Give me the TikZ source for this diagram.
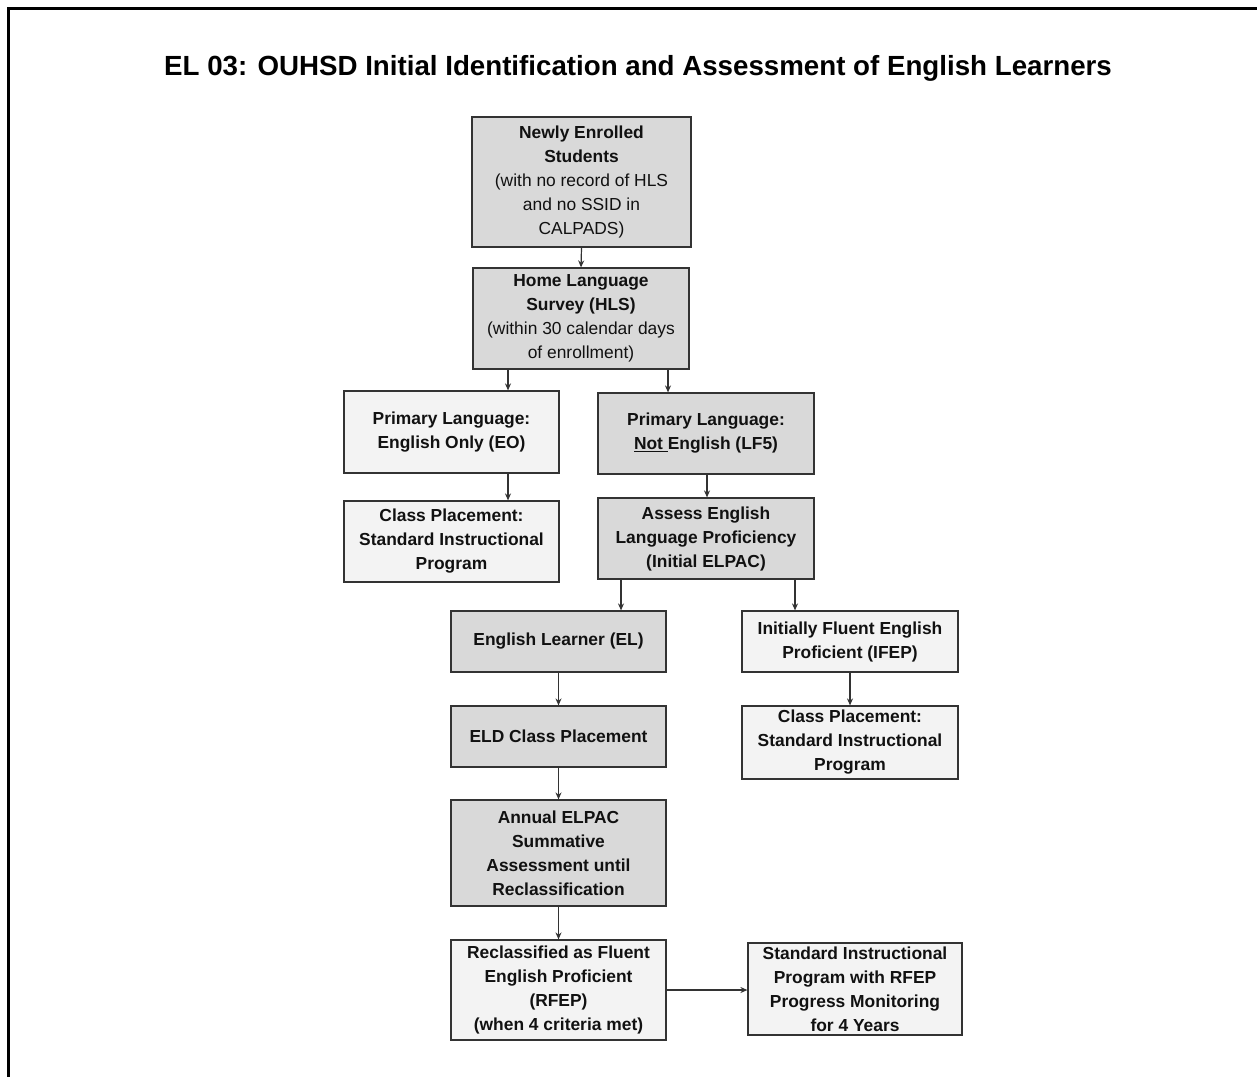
\documentclass[tikz,border=0pt]{standalone}
\usepackage{fontspec}
\setmainfont{Liberation Sans}
\usetikzlibrary{arrows.meta}
\definecolor{darkfill}{HTML}{D9D9D9}
\definecolor{lightfill}{HTML}{F3F3F3}
\definecolor{edge}{HTML}{333333}
\definecolor{txt}{HTML}{111111}
\tikzset{
  box/.style={draw=edge, line width=1.2pt, inner sep=0pt, align=center, text=txt,
    font=\fontsize{17.4pt}{24pt}\selectfont, anchor=center},
  darkbox/.style={box, fill=darkfill},
  lightbox/.style={box, fill=lightfill},
  arr/.style={draw=edge, line width=1.2pt, -{Stealth[length=7pt,width=6pt]}},
}
\begin{document}
\begin{tikzpicture}[x=1pt,y=1pt]
\useasboundingbox (0,0) rectangle (1257,-1076);
\draw[line width=2.2pt, black] (8.5,-1080) -- (8.5,-8.5) -- (1260,-8.5);
\node[font=\fontsize{27.7pt}{32pt}\selectfont\bfseries, text=black] (title) at (638,-68) {EL 03: OUHSD Initial Identification and Assessment of English Learners};

\node[darkbox, minimum width=219, minimum height=130] (newly) at (581.5,-182)
  {\textbf{Newly Enrolled}\\\textbf{Students}\\(with no record of HLS\\and no SSID in\\CALPADS)};
\node[darkbox, minimum width=216, minimum height=101] (hls) at (581,-318.5)
  {\textbf{Home Language}\\\textbf{Survey (HLS)}\\(within 30 calendar days\\of enrollment)};
\node[lightbox, minimum width=215, minimum height=82] (eo) at (451.5,-432)
  {\textbf{Primary Language:}\\\textbf{English Only (EO)}};
\node[darkbox, minimum width=216, minimum height=81] (ne) at (706,-433.5)
  {\textbf{Primary Language:}\\\textbf{\underline{Not\ }English (LF5)}};
\node[lightbox, minimum width=215, minimum height=81] (cpl) at (451.5,-541.5)
  {\textbf{Class Placement:}\\\textbf{Standard Instructional}\\\textbf{Program}};
\node[darkbox, minimum width=216, minimum height=81] (assess) at (706,-538.5)
  {\textbf{Assess English}\\\textbf{Language Proficiency}\\\textbf{(Initial ELPAC)}};
\node[darkbox, minimum width=215, minimum height=61] (el) at (558.5,-641.5)
  {\textbf{English Learner (EL)}};
\node[lightbox, minimum width=216, minimum height=61] (ifep) at (850,-641.5)
  {\textbf{Initially Fluent English}\\\textbf{Proficient (IFEP)}};
\node[darkbox, minimum width=215, minimum height=61] (eld) at (558.5,-736.5)
  {\textbf{ELD Class Placement}};
\node[lightbox, minimum width=216, minimum height=73] (cpr) at (850,-742.5)
  {\textbf{Class Placement:}\\\textbf{Standard Instructional}\\\textbf{Program}};
\node[darkbox, minimum width=215, minimum height=106] (annual) at (558.5,-853)
  {\textbf{Annual ELPAC}\\\textbf{Summative}\\\textbf{Assessment until}\\\textbf{Reclassification}};
\node[lightbox, minimum width=215, minimum height=100] (reclass) at (558.5,-990)
  {\textbf{Reclassified as Fluent}\\\textbf{English Proficient}\\\textbf{(RFEP)}\\\textbf{(when 4 criteria met)}};
\node[lightbox, minimum width=214, minimum height=92] (std) at (855,-989)
  {\textbf{Standard Instructional}\\\textbf{Program with RFEP}\\\textbf{Progress Monitoring}\\\textbf{for 4 Years}};

\coordinate (xa) at (508,0);
\coordinate (xb) at (668,0);
\coordinate (xc) at (621,0);
\coordinate (xd) at (795,0);
\coordinate (xe) at (707,0);
\coordinate (xf) at (508,0);

\draw[arr] (newly.south) -- (hls.north);
\draw[arr] (hls.south -| xa) -- (eo.north -| xa);
\draw[arr] (hls.south -| xb) -- (ne.north -| xb);
\draw[arr] (eo.south -| xf) -- (cpl.north -| xf);
\draw[arr] (ne.south -| xe) -- (assess.north -| xe);
\draw[arr] (assess.south -| xc) -- (el.north -| xc);
\draw[arr] (assess.south -| xd) -- (ifep.north -| xd);
\draw[arr] (el.south) -- (eld.north);
\draw[arr] (ifep.south) -- (cpr.north);
\draw[arr] (eld.south) -- (annual.north);
\draw[arr] (annual.south) -- (reclass.north);
\draw[arr] (reclass.east) -- (std.west |- reclass.east);
\end{tikzpicture}
\end{document}
